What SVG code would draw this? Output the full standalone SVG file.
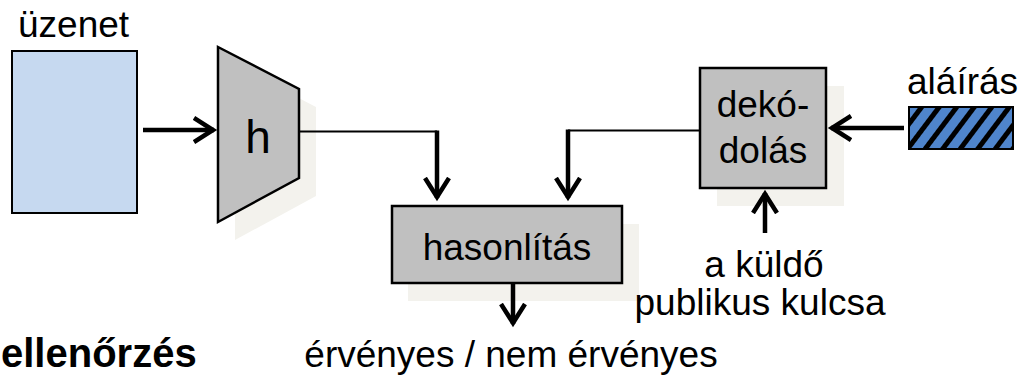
<svg xmlns="http://www.w3.org/2000/svg" width="1020" height="377" viewBox="0 0 1020 377">
<style>
text{font-family:"Liberation Sans",Arial,sans-serif;font-size:37px;fill:#000}
.c{text-anchor:middle}
.box{fill:#c0c0c0;stroke:#000;stroke-width:2.5}
.sh{fill:#f3f2ed}
.thin{fill:none;stroke:#000;stroke-width:2}
.thick{fill:none;stroke:#000;stroke-width:4.5;marker-end:url(#ah)}
</style>
<defs>
<marker id="ah" markerUnits="userSpaceOnUse" markerWidth="40" markerHeight="40" refX="21" refY="14" orient="auto" viewBox="0 0 40 40">
<path d="M1,2 L20,14 L1,26" fill="none" stroke="#000" stroke-width="4.5"/>
</marker>
<pattern id="hatch" width="14" height="14" patternUnits="userSpaceOnUse" patternTransform="rotate(37)">
<rect width="14" height="14" fill="#4f85cc"/>
<rect width="5" height="14" fill="#000"/>
</pattern>
</defs>

<g id="uzenet">
<rect x="12" y="51" width="125" height="162" fill="#c6d9f0" stroke="#000" stroke-width="2"/>
<text x="18" y="37">üzenet</text>
</g>

<g id="h">
<polygon class="sh" points="235,65 316,107 316,196 235,240"/>
<polygon class="box" points="218,47 299,89 299,178 218,222"/>
<text class="c" x="258" y="153" style="font-size:46px">h</text>
</g>

<g id="hasonlitas">
<rect class="sh" x="408" y="224" width="231" height="77"/>
<rect class="box" x="392" y="206" width="230" height="77"/>
<text class="c" x="507" y="260">hasonlítás</text>
</g>

<g id="dekodolas">
<rect class="sh" x="717" y="86" width="127" height="120"/>
<rect class="box" x="700" y="68" width="126" height="120"/>
<text class="c" x="763" y="117">dekó-</text>
<text class="c" x="763" y="163">dolás</text>
</g>

<g id="alairas">
<rect x="909" y="107" width="104" height="42" fill="url(#hatch)" stroke="#000" stroke-width="2"/>
<text x="907" y="94">aláírás</text>
</g>

<g id="kulcs">
<text class="c" x="764" y="277">a küldő</text>
<text class="c" x="760" y="315">publikus kulcsa</text>
</g>

<g id="eredmeny">
<text class="c" x="511" y="367">érvényes / nem érvényes</text>
</g>

<g id="cim">
<text x="1" y="367" style="font-size:40px;font-weight:bold">ellenőrzés</text>
</g>

<g id="connectors">
<line class="thick" x1="143" y1="130" x2="214" y2="130"/>
<polyline class="thin" points="299,131.5 437,131.5"/>
<line class="thick" x1="437" y1="130.5" x2="437" y2="198"/>
<polyline class="thin" points="700,130.5 568,130.5"/>
<line class="thick" x1="568" y1="129.5" x2="568" y2="198"/>
<line class="thick" x1="513" y1="283" x2="513" y2="324"/>
<line class="thick" x1="904" y1="128" x2="831" y2="128"/>
<line class="thick" x1="765" y1="233" x2="765" y2="193"/>
</g>
</svg>
